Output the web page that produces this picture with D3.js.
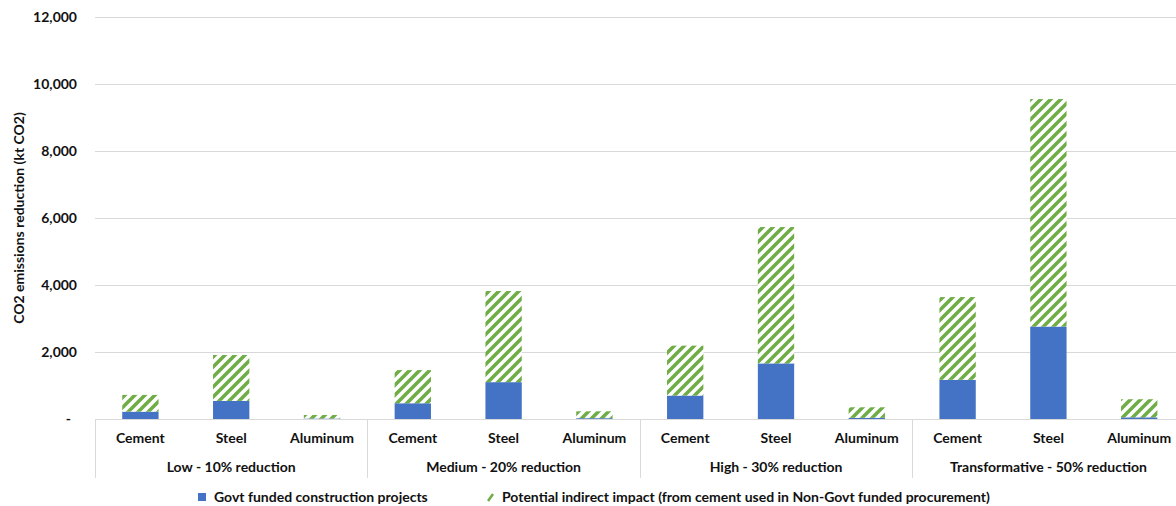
<!DOCTYPE html>
<html>
<head>
<meta charset="utf-8">
<script src="https://cdn.jsdelivr.net/npm/d3@7"></script>
<style>
  html, body { margin: 0; padding: 0; background: #fff; }
  svg { display: block; font-family: Lato, "Open Sans", sans-serif; }
</style>
</head>
<body>
<svg id="chart" width="1176" height="506"></svg>
<script>
const categories = ["Cement", "Steel", "Aluminum"];
const scenarios = ["Low - 10% reduction", "Medium - 20% reduction", "High - 30% reduction", "Transformative - 50% reduction"];
const seriesNames = ["Govt funded construction projects", "Potential indirect impact (from cement used in Non-Govt funded procurement)"];
// values in kt CO2, ordered scenario by scenario, Cement/Steel/Aluminum
const govtFunded = [220, 540, 15, 470, 1100, 25, 700, 1660, 35, 1170, 2760, 50];
const indirectImpact = [500, 1370, 105, 990, 2720, 205, 1490, 4070, 315, 2470, 6790, 540];
const yTicks = [0, 2000, 4000, 6000, 8000, 10000, 12000];

(function () {
const svg = d3.select("#chart");
const pLeft = 95, pRight = 1184.6, pTop = 17, pBottom = 419;
const fs = 14, ink = "#111";

const keys = [];
scenarios.forEach((s, i) => categories.forEach((c, j) => keys.push(i * 3 + j)));

const x = d3.scaleBand().domain(keys).range([pLeft, pRight]).paddingInner(0.6).paddingOuter(0.3);
const y = d3.scaleLinear().domain([0, 12000]).range([pBottom, pTop]);

// hatch pattern
const defs = svg.append("defs");
const pat = defs.append("pattern").attr("id", "hatch").attr("patternUnits", "userSpaceOnUse")
  .attr("width", 10).attr("height", 10);
pat.append("rect").attr("width", 10).attr("height", 10).attr("fill", "#fff");
pat.append("path").attr("d", "M-2,12 L12,-2 M-7,7 L7,-7 M3,17 L17,3")
  .attr("stroke", "#70AD47").attr("stroke-width", 3.6);

// gridlines
svg.append("g").selectAll("line").data(yTicks.filter(d => d > 0)).join("line")
  .attr("x1", pLeft).attr("x2", 1176)
  .attr("y1", d => Math.round(y(d)) + 0.5).attr("y2", d => Math.round(y(d)) + 0.5)
  .attr("stroke", "#d9d9d9").attr("stroke-width", 1);

// y tick labels
const fmt = d3.format(",");
svg.append("g").selectAll("text").data(yTicks).join("text")
  .attr("x", d => d === 0 ? 71 : 77)
  .attr("y", d => y(d))
  .attr("dy", "0.35em")
  .attr("text-anchor", "end")
  .attr("font-size", fs).attr("font-weight", "bold").attr("fill", ink)
  .text(d => d === 0 ? "-" : fmt(d));

// y axis title
svg.append("text")
  .attr("transform", `translate(19,${(pTop + pBottom) / 2}) rotate(-90)`)
  .attr("text-anchor", "middle").attr("dy", "0.35em")
  .attr("font-size", fs).attr("font-weight", "bold").attr("fill", ink)
  .text("CO2 emissions reduction (kt CO2)");

// stacked bars
const data = keys.map(k => ({ k, g: govtFunded[k], i: indirectImpact[k] }));
const bars = svg.append("g");
bars.selectAll("rect.g").data(data).join("rect").attr("class", "g")
  .attr("x", d => x(d.k)).attr("width", x.bandwidth())
  .attr("y", d => y(d.g)).attr("height", d => y(0) - y(d.g))
  .attr("fill", "#4472C4");
bars.selectAll("rect.i").data(data).join("rect").attr("class", "i")
  .attr("x", d => x(d.k)).attr("width", x.bandwidth())
  .attr("y", d => y(d.g + d.i)).attr("height", d => y(d.g) - y(d.g + d.i))
  .attr("fill", "url(#hatch)");

// x axis line
svg.append("line").attr("x1", pLeft).attr("x2", 1176).attr("y1", pBottom + 0.5).attr("y2", pBottom + 0.5)
  .attr("stroke", "#d9d9d9");

// group separators
const step = x.step();
const groupEdges = d3.range(scenarios.length + 1).map(i => pLeft + i * step * 3);
svg.append("g").selectAll("line").data(groupEdges).join("line")
  .attr("x1", d => Math.round(d) + 0.5).attr("x2", d => Math.round(d) + 0.5)
  .attr("y1", pBottom).attr("y2", 478)
  .attr("stroke", "#d9d9d9");

// category labels
svg.append("g").selectAll("text").data(keys).join("text")
  .attr("x", k => x(k) + x.bandwidth() / 2).attr("y", 438).attr("dy", "0.35em")
  .attr("text-anchor", "middle").attr("font-size", fs).attr("font-weight", "bold").attr("fill", ink)
  .text(k => categories[k % 3]);

// group labels
svg.append("g").selectAll("text").data(scenarios).join("text")
  .attr("x", (s, i) => pLeft + (i + 0.5) * step * 3).attr("y", 467).attr("dy", "0.35em")
  .attr("text-anchor", "middle").attr("font-size", fs).attr("font-weight", "bold").attr("fill", ink)
  .text(s => s);

// legend
const lg = svg.append("g");
lg.append("rect").attr("x", 198).attr("y", 493).attr("width", 8).attr("height", 8).attr("fill", "#4472C4");
lg.append("text").attr("x", 214).attr("y", 497).attr("dy", "0.35em")
  .attr("font-size", fs).attr("font-weight", "bold").attr("fill", ink).text(seriesNames[0]);
lg.append("line").attr("x1", 488).attr("y1", 501).attr("x2", 493).attr("y2", 494)
  .attr("stroke", "#70AD47").attr("stroke-width", 2.5);
lg.append("text").attr("x", 502).attr("y", 497).attr("dy", "0.35em")
  .attr("font-size", fs).attr("font-weight", "bold").attr("fill", ink).text(seriesNames[1]);
})();
</script>
</body>
</html>
